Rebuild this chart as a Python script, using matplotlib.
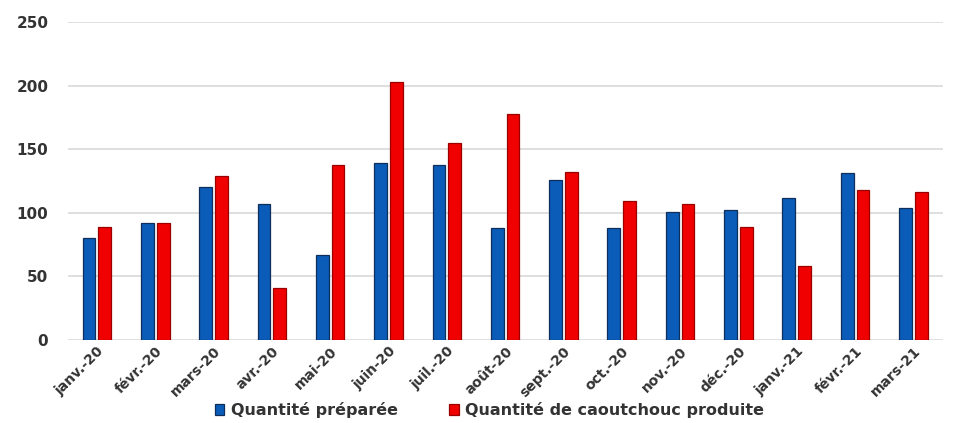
import numpy as np
import matplotlib.pyplot as plt

# === Donnees ===
mois = ["janv.-20", "févr.-20", "mars-20", "avr.-20", "mai-20", "juin-20", "juil.-20",
        "août-20", "sept.-20", "oct.-20", "nov.-20", "déc.-20", "janv.-21", "févr.-21", "mars-21"]
quantite_preparee = [80, 92, 120, 107, 67, 139, 138, 88, 126, 88, 101, 102, 112, 131, 104]
caoutchouc_produit = [89, 92, 129, 41, 138, 203, 155, 178, 132, 109, 107, 89, 58, 118, 116]

# === Grafico ===
fig, ax = plt.subplots(figsize=(9.54, 4.23), dpi=100)
fig.subplots_adjust(left=0.071, right=0.988, top=0.948, bottom=0.196)

x = np.arange(len(mois))
w = 0.22
ax.bar(x - 0.135, quantite_preparee, w, color="#0a5cb8", edgecolor="#0d2f5a",
       linewidth=0.9, label="Quantité préparée", zorder=3)
ax.bar(x + 0.135, caoutchouc_produit, w, color="#f00000", edgecolor="#9a0000",
       linewidth=0.9, label="Quantité de caoutchouc produite", zorder=3)

ax.set_xlim(-0.5, len(mois) - 0.5)
ax.set_ylim(0, 250)
ax.set_yticks([0, 50, 100, 150, 200, 250])
ax.yaxis.grid(True, color="#d9d9d9", linewidth=1.2, zorder=0)
for s in ax.spines.values():
    s.set_visible(False)
ax.tick_params(axis="both", length=0, colors="#333333")
ax.tick_params(axis="y", pad=14, labelsize=11)
ax.tick_params(axis="x", pad=3, labelsize=10)
for lab in ax.get_yticklabels():
    lab.set_fontweight("bold")
ax.set_xticks(x)
ax.set_xticklabels(mois, rotation=45, ha="right", rotation_mode="anchor",
                   fontweight="bold")

leg = ax.legend(loc="center", bbox_to_anchor=(0.482, -0.22), ncol=2, frameon=False,
                prop={"size": 11.5, "weight": "bold"}, handlelength=0.6, handleheight=0.6,
                columnspacing=3.2, handletextpad=0.4)
for t in leg.get_texts():
    t.set_color("#333333")

plt.savefig("out.png", dpi=100)
